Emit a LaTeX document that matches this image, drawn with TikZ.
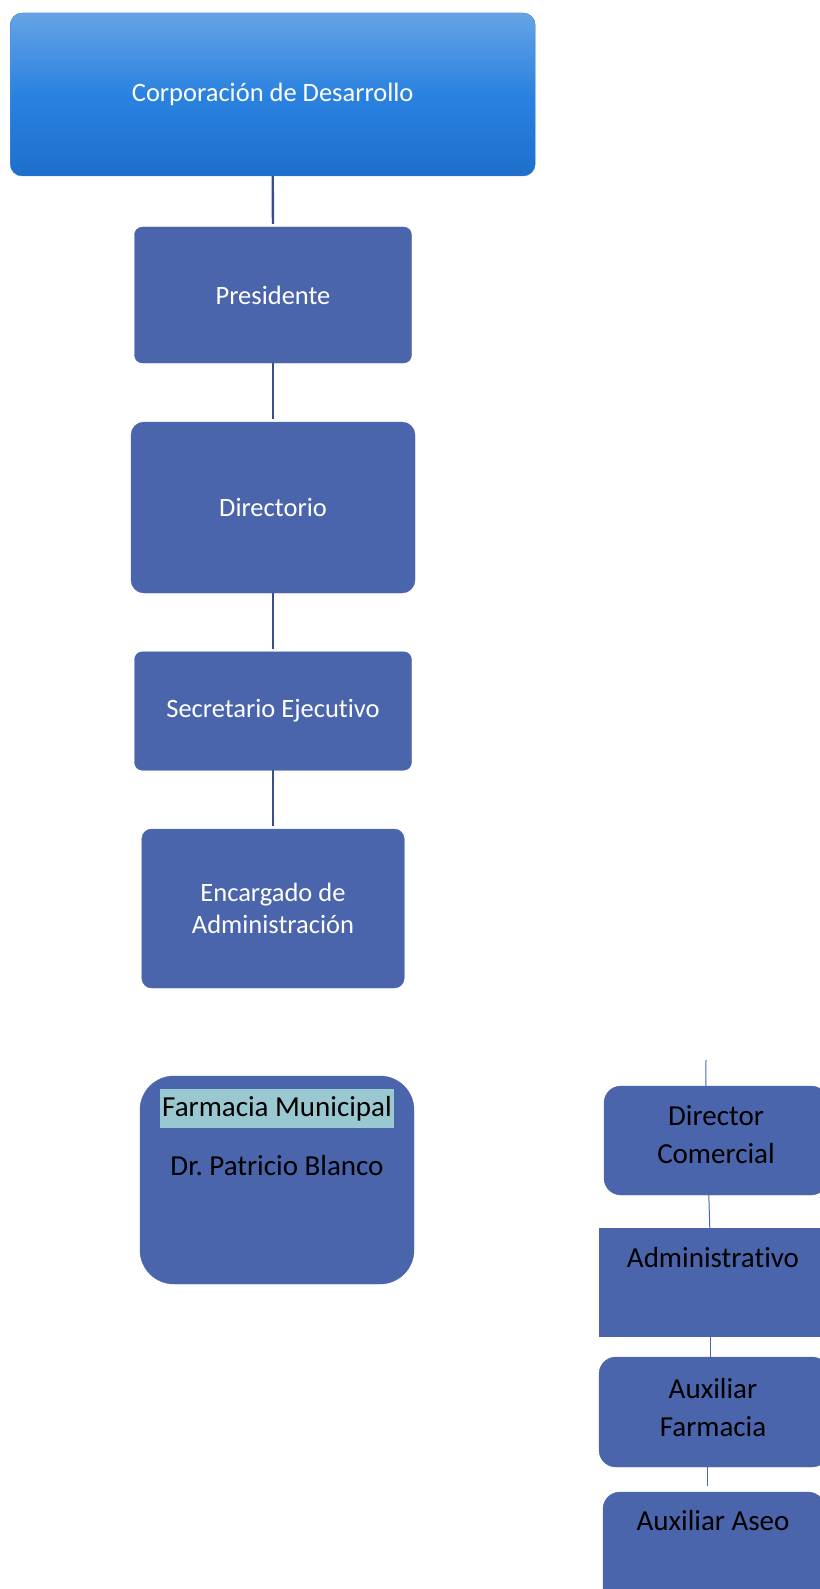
\documentclass[tikz,border=0pt]{standalone}
\usepackage{fontspec}
\setmainfont{Carlito}[RawFeature={-liga;-calt}]
\usetikzlibrary{calc}
\definecolor{boxblue}{HTML}{4A65AB}
\definecolor{linedark}{HTML}{3A4E8C}
\definecolor{hlteal}{HTML}{9AC8D0}
\definecolor{corptop}{HTML}{66A3E6}
\definecolor{corpmid}{HTML}{2A82E0}
\definecolor{corpbot}{HTML}{1E6FCC}
\definecolor{corpedge}{HTML}{4C92DE}
\begin{document}
\frenchspacing
\begin{tikzpicture}[x=1pt,y=-1pt,
  orgbox/.style={fill=boxblue, draw=boxblue, rounded corners=#1, inner sep=0pt,
    text=white, font=\fontsize{26.5}{32}\selectfont, align=center},
  orgbox/.default=8pt,
  sqbox/.style={fill=boxblue, draw=boxblue, inner sep=0pt},
  btxt/.style={text=black, font=\fontsize{29}{38}\selectfont, inner sep=0pt, align=center},
  mainlink/.style={draw=linedark, line width=2.4pt, shorten >=3pt},
  sublink/.style={draw=boxblue, line width=1pt},
]
\useasboundingbox (0,0) rectangle (819,1589);

% left column
\node[orgbox=12pt, draw=corpedge, top color=corptop, bottom color=corpbot, middle color=corpmid,
      minimum width=525pt, minimum height=163pt] (corp) at (272.7,94.5) {Corporación de Desarrollo};
\node[orgbox=8pt, minimum width=277pt, minimum height=136pt] (pres) at (273,295) {Presidente};
\node[orgbox=13pt, minimum width=284pt, minimum height=171pt] (dir) at (273,507.5) {Directorio};
\node[orgbox=8pt, minimum width=277pt, minimum height=118.5pt] (sec) at (273,711) {Secretario Ejecutivo};
\node[orgbox=10pt, minimum width=262.5pt, minimum height=159pt] (enc) at (273,908.5) {Encargado de\\Administración};

\draw[mainlink] (corp.south) -- (pres.north);
\draw[mainlink] (pres.south) -- (dir.north);
\draw[mainlink] (dir.south) -- (sec.north);
\draw[mainlink] (sec.south) -- (enc.north);

% Farmacia
\node[orgbox=34pt, minimum width=274pt, minimum height=208pt] (farm) at (277,1180) {};
\node[fill=hlteal, text=black, font=\fontsize{29}{38}\selectfont, minimum width=234pt,
      text height=22pt, text depth=6pt, inner xsep=0pt, inner ysep=5.5pt] (fmun) at (277,1108.5) {Farmacia Municipal};
\node[btxt, anchor=base] (drpb) at (277,1175) {Dr. Patricio Blanco};

% right column
\node[orgbox=17pt, minimum width=224pt, minimum height=109pt] (dc) at (716,1140.5) {};
\node[btxt] (dct) at (716,1135) {Director\\Comercial};
\node[sqbox, minimum width=230pt, minimum height=108pt] (adm) at (714,1282) {};
\node[btxt, anchor=base] (admt) at (713,1267) {Administrativo};
\node[orgbox=17pt, minimum width=230pt, minimum height=110pt] (af) at (714,1412) {};
\node[btxt] (aft) at (713,1408) {Auxiliar\\Farmacia};
\node[orgbox=17pt, minimum width=222pt, minimum height=120pt] (aa) at (714,1552) {};
\node[btxt, anchor=base] (aat) at (713,1530) {Auxiliar Aseo};

\coordinate (dctop) at (706,1060);
\draw[sublink] (dctop) -- ($(dc.north west)+(102,0)$);
\draw[sublink] ($(dc.south west)+(105,0)$) -- ($(adm.north west)+(111,0)$);
\draw[sublink] ($(adm.south west)+(112,0)$) -- ($(af.north west)+(112,0)$);
\draw[sublink] ($(af.south west)+(109,0)$) -- ($(aa.north west)+(105,-6)$);
\end{tikzpicture}
\end{document}
